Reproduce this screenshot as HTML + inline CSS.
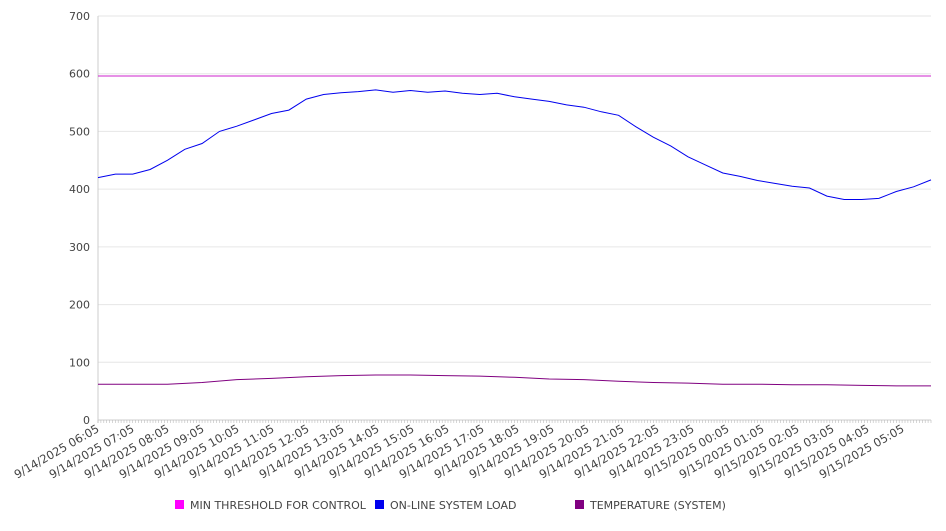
<!DOCTYPE html>
<html><head><meta charset="utf-8"><style>
body{margin:0;background:#fff;}
svg text{font-family:"DejaVu Sans","Liberation Sans",sans-serif;fill:#444;}
</style></head><body>
<svg id="chart" width="946" height="526" xmlns="http://www.w3.org/2000/svg"></svg>
<script>
const yTicks=[0,100,200,300,400,500,600,700];
const xLabels=["9/14/2025 06:05","9/14/2025 07:05","9/14/2025 08:05","9/14/2025 09:05","9/14/2025 10:05","9/14/2025 11:05","9/14/2025 12:05","9/14/2025 13:05","9/14/2025 14:05","9/14/2025 15:05","9/14/2025 16:05","9/14/2025 17:05","9/14/2025 18:05","9/14/2025 19:05","9/14/2025 20:05","9/14/2025 21:05","9/14/2025 22:05","9/14/2025 23:05","9/15/2025 00:05","9/15/2025 01:05","9/15/2025 02:05","9/15/2025 03:05","9/15/2025 04:05","9/15/2025 05:05"];
// half-hour samples, hours 0..24
const loadValues=[420,426,426,434,450,469,479,500,509,520,531,537,556,564,567,569,572,568,571,568,570,566,564,566,560,556,552,546,542,534,528,508,490,475,456,442,428,422,415,410,405,402,388,382,382,384,396,404,416];
// hourly samples
const tempValues=[62,62,62,65,70,72,75,77,78,78,77,76,74,71,70,67,65,64,62,62,61,61,60,59,59];
const thresholdValue=596;
const seriesNames=["MIN THRESHOLD FOR CONTROL","ON-LINE SYSTEM LOAD","TEMPERATURE (SYSTEM)"];
const seriesColors=["#ff00ff","#0000ee","#800080"];

const svg=document.getElementById('chart');
const NS='http://www.w3.org/2000/svg';
const X0=98,X1=931,Y0=420,Y1=16,HOURS=24,YMAX=700;
const xs=h=>X0+(X1-X0)*h/HOURS;
const ys=v=>Y0-(Y0-Y1)*v/YMAX;
function mk(t,a){const e=document.createElementNS(NS,t);for(const k in a)e.setAttribute(k,a[k]);svg.appendChild(e);return e;}

yTicks.forEach(v=>{
  const g=mk('line',{x1:X0,x2:X1,y1:ys(v),y2:ys(v),stroke:v===0?'#ccc':'#e6e6e6','stroke-width':1});
  
  
  const t=mk('text',{x:90,y:ys(v)+4,'text-anchor':'end','font-size':11});
  t.textContent=v;
  
  
});
const ax=mk('line',{x1:X0,x2:X0,y1:Y1,y2:Y0+3,stroke:'#ccc'});


let d='';
for(let i=0;i<=HOURS*12;i++){const x=X0+(X1-X0)*i/(HOURS*12);d+='M'+x.toFixed(1)+' '+Y0+'v3';}
const mt=mk('path',{d:d,stroke:'#bbb','stroke-width':0.6});


xLabels.forEach((l,i)=>{
  const x=X0+2+i*35,y=Y0+11;
  const t=mk('text',{x:x,y:y,'text-anchor':'end','font-size':11.5,transform:`rotate(-30 ${x} ${y})`});
  t.textContent=l;
  
  
});
const th=mk('line',{x1:X0,x2:X1,y1:ys(thresholdValue),y2:ys(thresholdValue),stroke:'#cc22cc','stroke-width':1});


function poly(vals,step,color,name){
  const pts=vals.map((v,i)=>xs(i*step).toFixed(1)+','+ys(v).toFixed(1)).join(' ');
  const p=mk('polyline',{points:pts,fill:'none',stroke:color,'stroke-width':1});
  
  
}
poly(loadValues,0.5,seriesColors[1],'system-load-line');
poly(tempValues,1,seriesColors[2],'temperature-line');
const lx=[175,375,575];
seriesNames.forEach((n,i)=>{
  const r=mk('rect',{x:lx[i],y:500,width:9,height:9,fill:seriesColors[i]});
  
  
  const t=mk('text',{x:lx[i]+15,y:509,'font-size':11});
  t.textContent=n;
  
  
});
</script>
</body></html>
